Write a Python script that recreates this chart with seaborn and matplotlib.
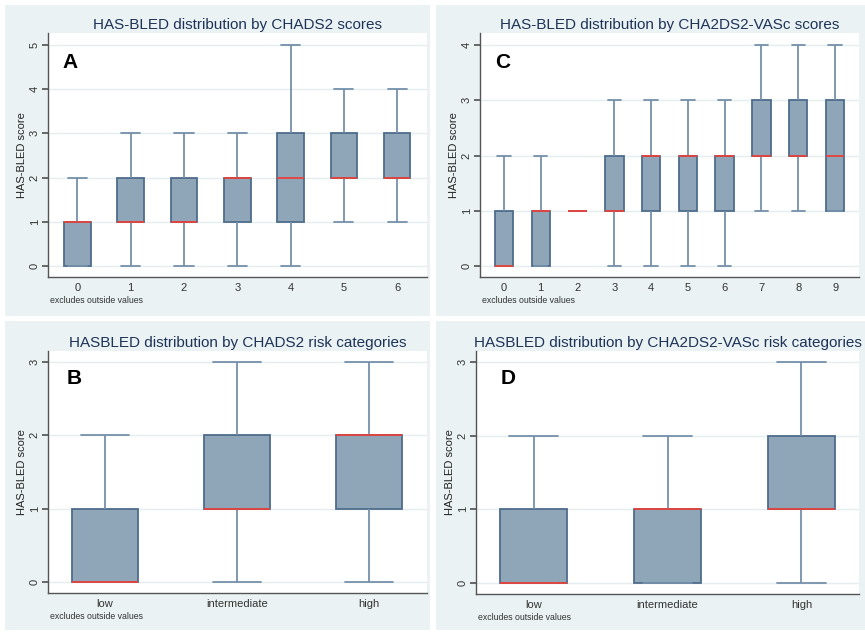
import pandas as pd
import matplotlib
matplotlib.use("Agg")
import matplotlib.pyplot as plt
from matplotlib.patches import Rectangle
import seaborn as sns

# five-number summaries: [low whisker, q1, median, q3, high whisker]
chads2_scores = ["0", "1", "2", "3", "4", "5", "6"]
chads2_stats = [
    [0, 0, 1, 1, 2],
    [0, 1, 1, 2, 3],
    [0, 1, 1, 2, 3],
    [0, 1, 2, 2, 3],
    [0, 1, 2, 3, 5],
    [1, 2, 2, 3, 4],
    [1, 2, 2, 3, 4],
]

vasc_scores = ["0", "1", "2", "3", "4", "5", "6", "7", "8", "9"]
vasc_stats = [
    [0, 0, 0, 1, 2],
    [0, 0, 1, 1, 2],
    [1, 1, 1, 1, 1],
    [0, 1, 1, 2, 3],
    [0, 1, 2, 2, 3],
    [0, 1, 2, 2, 3],
    [0, 1, 2, 2, 3],
    [1, 2, 2, 3, 4],
    [1, 2, 2, 3, 4],
    [1, 1, 2, 3, 4],
]

risk_cats = ["low", "intermediate", "high"]
chads2_risk_stats = [
    [0, 0, 0, 1, 2],
    [0, 1, 1, 2, 3],
    [0, 1, 2, 2, 3],
]
vasc_risk_stats = [
    [0, 0, 0, 1, 2],
    [0, 0, 1, 1, 2],
    [0, 1, 1, 2, 3],
]

titles = {
    "A": "HAS-BLED distribution by CHADS2 scores",
    "C": "HAS-BLED distribution by CHA2DS2-VASc scores",
    "B": "HASBLED distribution by CHADS2 risk categories",
    "D": "HASBLED distribution by CHA2DS2-VASc risk categories",
}


def to_long(groups, stats):
    # with 5 sorted values the 25/50/75 percentiles land exactly on q1/median/q3
    rows = []
    for g, s in zip(groups, stats):
        for v in s:
            rows.append({"group": g, "value": v})
    return pd.DataFrame(rows)


sns.set_theme(style="white")
plt.rcParams["font.family"] = ["Liberation Sans", "DejaVu Sans"]

W, H = 865, 632
fig = plt.figure(figsize=(W / 100, H / 100), dpi=100)
fig.patch.set_facecolor("white")

panel_bg = "#EAF2F3"
for (x0, y0, x1, y1) in [(5, 5, 430, 316), (436, 5, 865, 316),
                         (5, 321, 430, 630), (436, 321, 865, 630)]:
    fig.add_artist(Rectangle((x0 / W, 1 - y1 / H), (x1 - x0) / W, (y1 - y0) / H,
                             transform=fig.transFigure, facecolor=panel_bg,
                             edgecolor="none", zorder=-10))


def px_axes(left, top, right, bottom):
    return fig.add_axes([left / W, 1 - bottom / H, (right - left) / W, (bottom - top) / H])


box_fill = "#8FA5B8"
box_edge = "#4E6C8C"
whisk = "#7590AA"
med_red = "#E8413A"

panels = [
    ("A", px_axes(48, 33, 427, 277), chads2_scores, chads2_stats, (-0.25, 5.27), range(0, 6), (-0.55, 6.56), (0.037, 0.92)),
    ("C", px_axes(480, 33, 859, 277), vasc_scores, vasc_stats, (-0.2, 4.22), range(0, 5), (-0.65, 9.65), (0.04, 0.92)),
    ("B", px_axes(48, 351, 427, 593), risk_cats, chads2_risk_stats, (-0.15, 3.15), range(0, 4), (-0.43, 2.44), (0.05, 0.925)),
    ("D", px_axes(476, 351, 859, 594), risk_cats, vasc_risk_stats, (-0.15, 3.15), range(0, 4), (-0.43, 2.43), (0.063, 0.925)),
]

for letter, ax, groups, stats, ylim, yticks, xlim, lpos in panels:
    df = to_long(groups, stats)
    ax.set_facecolor("white")
    sns.boxplot(data=df, x="group", y="value", order=groups, ax=ax,
                width=0.5, whis=(0, 100), showfliers=False, saturation=1,
                color=box_fill, linecolor=box_edge, linewidth=1.3,
                capwidths=0.36,
                medianprops=dict(color=med_red, linewidth=1.3, zorder=5),
                whiskerprops=dict(color=whisk, linewidth=1.3),
                capprops=dict(color=whisk, linewidth=1.3))
    ax.set_ylim(*ylim)
    ax.set_xlim(*xlim)
    ax.set_yticks(list(yticks))
    ax.yaxis.grid(True, color="#E4EDEF", linewidth=1)
    ax.set_axisbelow(True)
    for s in ["top", "right"]:
        ax.spines[s].set_visible(False)
    for s in ["left", "bottom"]:
        ax.spines[s].set_color("#555555")
        ax.spines[s].set_linewidth(1)
    ax.tick_params(axis="y", left=True, length=4, color="#555555", labelsize=8,
                   labelcolor="#333333", labelrotation=90, pad=2)
    ax.tick_params(axis="x", bottom=False, length=0, labelsize=8, labelcolor="#333333", pad=4)
    for lab in ax.get_yticklabels():
        lab.set_verticalalignment("center")
    ax.set_xlabel("")
    ax.set_ylabel("HAS-BLED score", fontsize=8, color="#222222", labelpad=2)
    ax.set_title(titles[letter], fontsize=11, color="#1E3358", pad=3)
    ax.text(lpos[0], lpos[1], letter, transform=ax.transAxes, fontsize=15,
            fontweight="bold", color="black", va="top", ha="left")
    ax.text(0.005, -0.098, "excludes outside values", transform=ax.transAxes,
            fontsize=6.3, color="#333333", va="center", ha="left")

fig.savefig("out.png", dpi=100, facecolor="white")
